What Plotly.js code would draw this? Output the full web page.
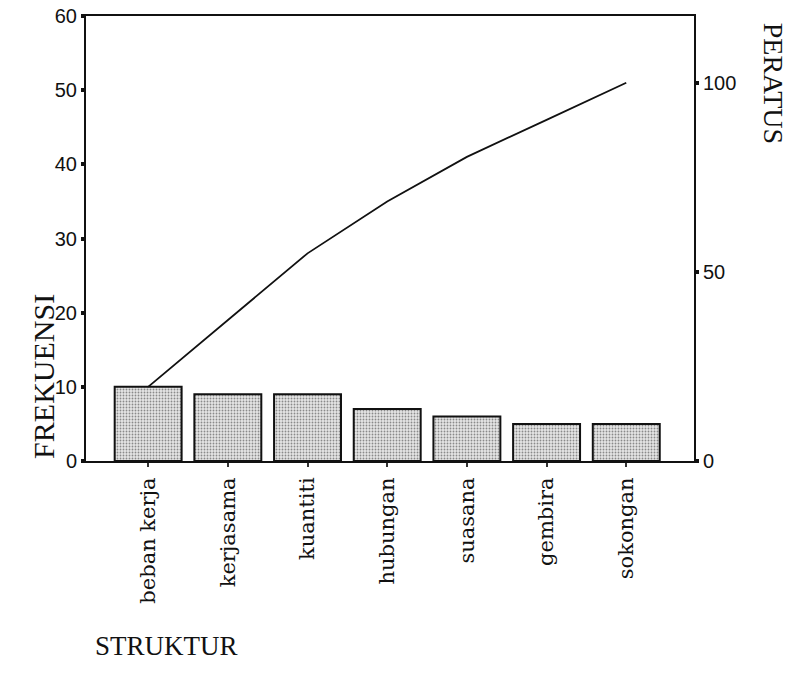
<!DOCTYPE html>
<html>
<head>
<meta charset="utf-8">
<script src="https://cdn.plot.ly/plotly-3.0.1.min.js"></script>
<style>html,body{margin:0;padding:0;background:#fff;}#chart{width:791px;height:680px;}</style>
</head>
<body>
<div id="chart"></div>
<script>
// Data
const categories = ["beban kerja", "kerjasama", "kuantiti", "hubungan", "suasana", "gembira", "sokongan"];
const frekuensi = [10, 9, 9, 7, 6, 5, 5];
const peratusKumulatif = [19.6, 37.3, 54.9, 68.6, 80.4, 90.2, 100];
const leftTicks = [0, 10, 20, 30, 40, 50, 60];
const rightTicks = [0, 50, 100];

const serif = "Liberation Serif, Times New Roman, serif";
const labelSerif = "DejaVu Serif, serif";
const sans = "Liberation Sans, Arial, sans-serif";

const bars = {
  type: "bar",
  x: categories,
  y: frekuensi,
  width: 0.84,
  marker: {
    color: "#dcdcdc",
    line: {color: "#111", width: 2},
    pattern: {shape: ".", bgcolor: "#e6e6e6", fgcolor: "#8a8a8a", size: 3, solidity: 0.3}
  },
  showlegend: false,
  hoverinfo: "x+y"
};

const line = {
  type: "scatter",
  mode: "lines",
  x: categories,
  y: peratusKumulatif,
  yaxis: "y2",
  line: {color: "#111", width: 1.8},
  showlegend: false
};

const layout = {
  width: 791,
  height: 680,
  margin: {l: 86, r: 97, t: 16, b: 219},
  paper_bgcolor: "#fff",
  plot_bgcolor: "#fff",
  xaxis: {
    type: "category",
    range: [-0.78, 6.85],
    showline: true, linecolor: "#111", linewidth: 2,
    mirror: true,
    ticks: "outside", ticklen: 4, tickwidth: 2, tickcolor: "#333",
    tickangle: -90,
    tickfont: {family: labelSerif, size: 21, color: "#111"},
    ticklabelstandoff: 2,
    showgrid: false, zeroline: false
  },
  yaxis: {
    range: [0, 60],
    tickvals: leftTicks,
    ticktext: leftTicks.map(String),
    showline: true, linecolor: "#111", linewidth: 2,
    ticks: "outside", ticklen: 3, tickwidth: 4, tickcolor: "#111",
    tickfont: {family: sans, size: 20, color: "#111"},
    showgrid: false, zeroline: false
  },
  yaxis2: {
    overlaying: "y",
    side: "right",
    range: [0, 117.65],
    tickvals: rightTicks,
    ticktext: rightTicks.map(String),
    showline: true, linecolor: "#111", linewidth: 2,
    ticks: "outside", ticklen: 3, tickwidth: 4, tickcolor: "#111",
    tickfont: {family: sans, size: 20, color: "#111"},
    showgrid: false, zeroline: false
  },
  annotations: [
    {text: "FREKUENSI", xref: "paper", yref: "paper", x: -0.07, y: 0.19, textangle: -90,
     showarrow: false, xanchor: "center", yanchor: "middle",
     font: {family: serif, size: 30, color: "#111"}},
    {text: "PERATUS", xref: "paper", yref: "paper", x: 1.13, y: 0.85, textangle: 90,
     showarrow: false, xanchor: "center", yanchor: "middle",
     font: {family: serif, size: 28, color: "#111"}},
    {text: "STRUKTUR", xref: "paper", yref: "paper", x: 0.132, y: -0.415,
     showarrow: false, xanchor: "center", yanchor: "middle",
     font: {family: serif, size: 27, color: "#111"}}
  ]
};

Plotly.newPlot("chart", [bars, line], layout, {staticPlot: true, displayModeBar: false});
</script>
</body>
</html>
